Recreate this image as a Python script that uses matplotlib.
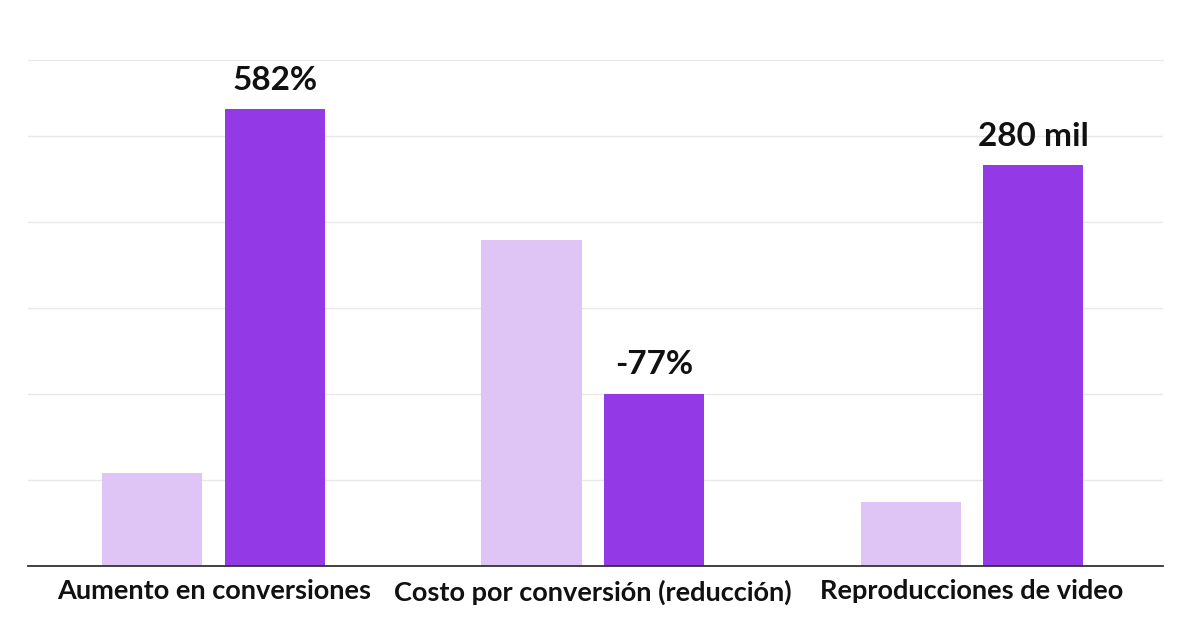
import numpy as np
import matplotlib.pyplot as plt

# Datos (unidades arbitrarias de la escala)
categorias = ["Aumento en conversiones", "Costo por conversión (reducción)", "Reproducciones de video"]
antes = [1.08, 3.79, 0.74]
despues = [5.31, 2.00, 4.66]
etiquetas = ["582%", "-77%", "280 mil"]

color_antes = "#dfc5f6"
color_despues = "#9439e6"

fig = plt.figure(figsize=(12.02, 6.18), dpi=100)
ax = fig.add_axes([0.0233, 0.0841, 0.9443, 0.8188])

x = np.arange(len(categorias))
ancho = 0.264
sep = 0.162

ax.bar(x - sep, antes, width=ancho, color=color_antes, zorder=3)
barras = ax.bar(x + sep, despues, width=ancho, color=color_despues, zorder=3)

for b, txt in zip(barras, etiquetas):
    ax.text(b.get_x() + b.get_width() / 2, b.get_height() + 0.17, txt,
            ha="center", va="bottom", fontsize=24, fontweight="bold",
            family="Lato", color="#111111", zorder=4)

ax.set_xlim(-0.49, 2.504)
ax.set_ylim(0, 5.884)
ax.set_yticks(np.arange(0, 6, 1))
ax.yaxis.grid(True, color="#e8e8e8", linewidth=1, zorder=0)
ax.tick_params(axis="y", left=False, labelleft=False)
ax.tick_params(axis="x", bottom=False, pad=6)
ax.set_xticks(x)
ax.set_xticklabels(categorias, fontsize=19.5, fontweight="bold", family="Lato", color="#111111")

for lado in ["left", "right"]:
    ax.spines[lado].set_visible(False)
ax.spines["top"].set_color("#e8e8e8")
ax.spines["bottom"].set_color("#333333")
ax.spines["bottom"].set_linewidth(1.3)
ax.spines["bottom"].set_zorder(5)

fig.savefig("out.png", dpi=100)
